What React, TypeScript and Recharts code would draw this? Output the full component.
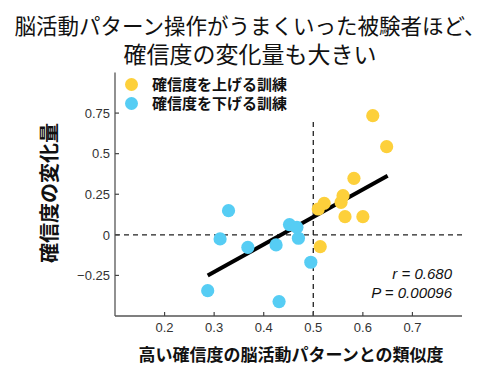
import { ReferenceLine, Scatter, ScatterChart, XAxis, YAxis } from 'recharts';

// 確信度を上げる訓練 (yellow) / 下げる訓練 (blue)
const upX = [0.62, 0.648, 0.582, 0.56, 0.556, 0.522, 0.51, 0.564, 0.6, 0.514];
const upY = [0.734, 0.543, 0.348, 0.241, 0.2, 0.194, 0.159, 0.112, 0.112, -0.073];
const downX = [0.329, 0.312, 0.368, 0.425, 0.452, 0.467, 0.47, 0.495, 0.287, 0.431];
const downY = [0.149, -0.025, -0.077, -0.062, 0.063, 0.046, -0.021, -0.169, -0.344, -0.411];
const fitX = [0.287, 0.65];
const fitY = [-0.251, 0.364];

const xTicks = [0.2, 0.3, 0.4, 0.5, 0.6, 0.7];
const yTicks = [-0.25, 0, 0.25, 0.5, 0.75];
const legendLabels = ['確信度を上げる訓練', '確信度を下げる訓練'];
const titleLines = ['脳活動パターン操作がうまくいった被験者ほど、', '確信度の変化量も大きい'];

const YELLOW = '#FDD03B';
const BLUE = '#56CDF4';
const JP = '"Noto Sans CJK JP", "Noto Sans", sans-serif';
const LATIN = '"Liberation Sans", Arial, sans-serif';

const toPoints = (xs: number[], ys: number[]) => xs.map((x, i) => ({ x, y: ys[i] }));
const upData = toPoints(upX, upY);
const downData = toPoints(downX, downY);
const fitData = toPoints(fitX, fitY);

const fmt = (v: number) => (v < 0 ? `\u2212${Math.abs(v)}` : `${v}`);

function XTick({ x, y, payload }: any) {
    return (
        <g>
            <line x1={x} x2={x} y1={y} y2={y - 4} stroke="#444" strokeWidth={1.2} />
            <text x={x} y={y + 15.5} textAnchor="middle" fontSize={13} fill="#333" fontFamily={LATIN}>
                {fmt(payload.value)}
            </text>
        </g>
    );
}

function YTick({ x, y, payload }: any) {
    return (
        <g>
            <line x1={x} x2={x + 4} y1={y} y2={y} stroke="#444" strokeWidth={1.2} />
            <text x={x - 5} y={y + 4.7} textAnchor="end" fontSize={13} fill="#333" fontFamily={LATIN}>
                {fmt(payload.value)}
            </text>
        </g>
    );
}

const dot = (fill: string) => (p: any) => <circle cx={p.cx} cy={p.cy} r={6.6} fill={fill} />;

export default function App() {
    return (
        <div style={{ position: 'absolute', left: 0, top: 0, width: 500, height: 377, background: '#fff' }}>
            <ScatterChart width={500} height={377} margin={{ top: 72.5, right: 38, bottom: 0, left: 65 }}>
                <XAxis
                    type="number"
                    dataKey="x"
                    domain={[0.1, 0.8]}
                    ticks={xTicks}
                    height={61}
                    tickSize={0}
                    tickMargin={0}
                    tickLine={false}
                    tick={<XTick />}
                    stroke="#555"
                    strokeWidth={1.3}
                />
                <YAxis
                    type="number"
                    dataKey="y"
                    domain={[-0.5, 1]}
                    ticks={yTicks}
                    width={50}
                    tickSize={0}
                    tickMargin={0}
                    tickLine={false}
                    tick={<YTick />}
                    stroke="#555"
                    strokeWidth={1.3}
                />
                <ReferenceLine y={0} stroke="#222" strokeWidth={1.3} strokeDasharray="5 4" />
                <ReferenceLine
                    segment={[{ x: 0.5, y: -0.5 }, { x: 0.5, y: 0.715 }]}
                    stroke="#222"
                    strokeWidth={1.3}
                    strokeDasharray="5 4"
                />
                <Scatter data={fitData} line={{ stroke: '#000', strokeWidth: 4 }} shape={() => <g />} isAnimationActive={false} />
                <Scatter data={downData} shape={dot(BLUE)} isAnimationActive={false} />
                <Scatter data={upData} shape={dot(YELLOW)} isAnimationActive={false} />
            </ScatterChart>

            {titleLines.map((line, i) => (
                <div
                    key={line}
                    style={{
                        position: 'absolute',
                        left: 0,
                        top: 14 + i * 27.5,
                        width: 500,
                        height: 24,
                        textAlign: 'center',
                        fontFamily: JP,
                        fontSize: i === 0 ? 21.5 : 23,
                        lineHeight: '22px',
                        color: '#111',
                        whiteSpace: 'nowrap',
                    }}
                >
                    {line}
                </div>
            ))}

            {legendLabels.map((label, i) => (
                <div key={label} style={{ position: 'absolute', left: 125, top: 75 + i * 19.3, height: 18, display: 'flex', alignItems: 'center' }}>
                    <span style={{ width: 13, height: 13, borderRadius: '50%', background: i === 0 ? YELLOW : BLUE, display: 'inline-block' }} />
                    <span style={{ marginLeft: 14, fontFamily: JP, fontSize: 15, fontWeight: 700, color: '#111', lineHeight: '18px' }}>{label}</span>
                </div>
            ))}

            <div
                style={{
                    position: 'absolute',
                    left: 48,
                    top: 193,
                    transform: 'translate(-50%, -50%) rotate(-90deg)',
                    whiteSpace: 'nowrap',
                    fontFamily: JP,
                    fontSize: 20,
                    fontWeight: 700,
                    color: '#111',
                }}
            >
                確信度の変化量
            </div>

            <div
                style={{
                    position: 'absolute',
                    left: 291,
                    top: 353,
                    transform: 'translate(-50%, -50%)',
                    whiteSpace: 'nowrap',
                    fontFamily: JP,
                    fontSize: 17,
                    fontWeight: 700,
                    color: '#111',
                }}
            >
                高い確信度の脳活動パターンとの類似度
            </div>

            <div
                style={{
                    position: 'absolute',
                    right: 48,
                    top: 263.5,
                    textAlign: 'right',
                    fontFamily: LATIN,
                    fontStyle: 'italic',
                    fontSize: 15,
                    lineHeight: '19px',
                    color: '#111',
                }}
            >
                r = 0.680
                <br />
                P = 0.00096
            </div>
        </div>
    );
}
